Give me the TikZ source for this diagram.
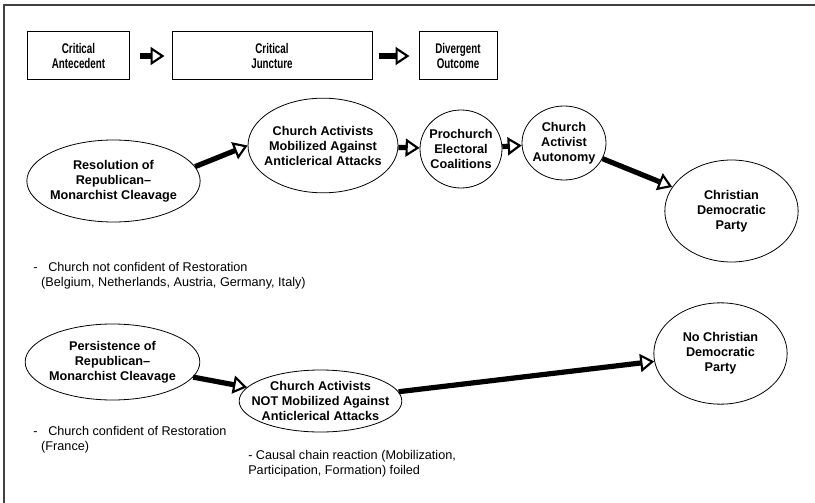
\documentclass[tikz,border=0pt]{standalone}
\usepackage{fontspec}
\setmainfont{Liberation Sans}
\newfontfamily\narrowsf[FakeStretch=0.7]{Liberation Sans}
\usetikzlibrary{arrows.meta, shapes.geometric}

\begin{document}
\begin{tikzpicture}[
        x=0.75pt, y=-0.75pt,
        font=\fontsize{9.5}{11.25}\selectfont,
        % Styles
        stage/.style={% For the three headings
            rectangle,
            draw,
            line width=0.75pt,
            minimum height=36pt,
            font=\narrowsf\bfseries\fontsize{10.5}{11.5}\selectfont,
            align=center,
            },
        event/.style={% For the ellipses, text goes in as a label
            ellipse,
            draw,
            line width=0.6pt,
            inner sep=0pt,
            },
        evtext/.style={% Text inside the ellipses
            font=\bfseries\fontsize{9.5}{11.25}\selectfont,
            align=center,
            },
        note/.style={% For the remarks under the ellipses
            anchor=west,
            align=left,
            inner sep=0pt,
            },
        Flow/.style={% Fat arrows with open heads
            line width=3.9pt,
            -{Triangle[open, length=10.5pt, width=13.5pt, line width=1.6pt 0]},
            },
        ]
    \useasboundingbox (0,0) rectangle (815,503);

    % Frame, only top and left are visible
        \draw [black!75, line width=1.1pt] (4,503) -- (4,5) -- (815,5);

    % Headings
        \node [stage, minimum width=77pt] (antecedent) at (78.5,56) {Critical\\Antecedent};
        \node [stage, minimum width=150pt] (juncture) at (272,56) {Critical\\Juncture};
        \node [stage, minimum width=58.5pt] (outcome) at (458,56) {Divergent\\Outcome};

    % Upper path
        \node [event, minimum width=130pt, minimum height=61.5pt, label={[evtext]center:{Resolution of\\Republican--\\Monarchist Cleavage}}] (resolve) at (113.5,181) {};
        \node [event, minimum width=112.5pt, minimum height=71pt, label={[evtext]center:{Church Activists\\Mobilized Against\\Anticlerical Attacks}}] (mobil) at (323,145.5) {};
        \node [event, minimum width=61.5pt, minimum height=58.5pt, label={[evtext]center:{Prochurch\\Electoral\\Coalitions}}] (coalit) at (461,149) {};
        \node [event, minimum width=63pt, minimum height=55.5pt, label={[evtext]center:{Church\\Activist\\Autonomy}}] (autonomy) at (564,143) {};
        \node [event, minimum width=100pt, minimum height=76.5pt, label={[evtext]center:{Christian\\Democratic\\Party}}] (cdparty) at (731.5,211) {};

    % Lower path
        \node [event, minimum width=131pt, minimum height=57pt, label={[evtext]center:{Persistence of\\Republican--\\Monarchist Cleavage}}] (persist) at (112.5,362) {};
        \node [event, minimum width=122pt, minimum height=46.5pt, label={[evtext]center:{Church Activists\\NOT Mobilized Against\\Anticlerical Attacks}}] (notmobil) at (320.5,401) {};
        \node [event, minimum width=100pt, minimum height=76pt, label={[evtext]center:{No Christian\\Democratic\\Party}}] (nocdp) at (720.5,353.5) {};

    % Remarks
        \node [note] (note1) at (33,275.5) {-\hspace{0.85em}Church not confident of Restoration\\\hspace*{0.63em}(Belgium, Netherlands, Austria, Germany, Italy)};
        \node [note] (note2) at (33,439.5) {-\hspace{0.85em}Church confident of Restoration\\\hspace*{0.63em}(France)};
        \node [note] (note3) at (248,464) {- Causal chain reaction (Mobilization,\\Participation, Formation) foiled};

    % Arrows
        \draw [Flow, shorten <=7.5pt, shorten >=5.25pt] (antecedent) -- (juncture);
        \draw [Flow, shorten <=4.5pt, shorten >=6.75pt] (juncture) -- (outcome);

        \draw [Flow] (resolve.10) -- (mobil.west);
        \draw [Flow] (mobil) -- (coalit);
        \draw [Flow] (coalit) -- (autonomy);
        \draw [Flow] (autonomy) -- (cdparty);

        \draw [Flow] (persist) -- (notmobil);
        \draw [Flow] (notmobil) -- (nocdp);

\end{tikzpicture}
\end{document}
